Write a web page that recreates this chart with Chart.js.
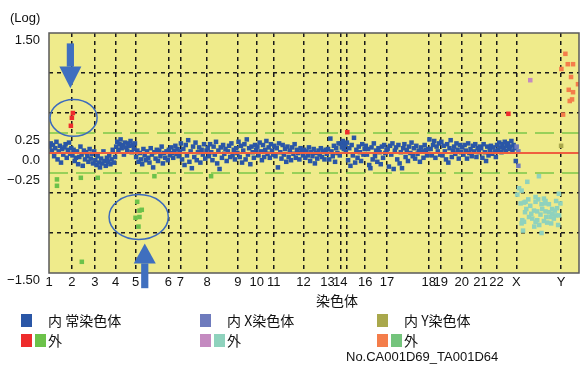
<!DOCTYPE html>
<html lang="ja">
<head>
<meta charset="utf-8">
<script src="https://cdn.jsdelivr.net/npm/chart.js@4.4.0/dist/chart.umd.min.js"></script>
<style>
  body { margin: 0; background: #fff; }
  #wrap { position: relative; width: 583px; height: 365px; font-family: "Liberation Sans", "Noto Sans CJK JP", sans-serif; color: #111; }
  #chart { position: absolute; left: 0; top: 0; }
  .t { position: absolute; white-space: nowrap; line-height: 1; }
  .jp { font-family: "Noto Sans CJK JP", sans-serif; font-size: 14px; }
  .sw { position: absolute; width: 11px; height: 13px; }
</style>
</head>
<body>
<div id="wrap">
  <canvas id="chart" width="583" height="365"></canvas>
  <div class="t" style="left:10px;top:11px;font-size:13px">(Log)</div>
  <div class="t jp" style="left:316px;top:293px">染色体</div>
  <div class="t" style="left:346px;top:350px;font-size:13px">No.CA001D69_TA001D64</div>
</div>
<script>
// chromosome axis (probe index)
const chrNames = ['1','2','3','4','5','6','7','8','9','10','11','12','13','14','','16','17','18','19','20','21','22','X','Y'];
const chrStart = [0,23,46,67,87,120,132,159,190,209,226,256,280,293,299,318,340,382,394,415,434,450,470,515];
const axisEnd = 533;

const yTickValues = [-1.5, -1, -0.5, -0.25, 0, 0.25, 0.5, 1, 1.5];
const yLabelValues = [1.5, 0.25, 0, -0.25, -1.5];
const yLabels = ['1.50', '0.25', '0.0', '\u22120.25', '\u22121.50'];

// log ratio per autosome, in probe order (inside threshold)
const autosomeLogRatio = [
  [0.08, 0.12, 0.03, 0.10, -0.04, 0.06, 0.14, -0.08, 0.02, 0.09, -0.12, 0.05, -0.02, 0.07, 0.11, -0.06, 0.04, 0.13, -0.01, 0.06],
  [-0.03, 0.04, -0.10, -0.06, 0.02, -0.14, -0.05, 0.08, -0.02, -0.16, 0.03, -0.08, 0.01, -0.04, -0.11, 0.05, -0.07, -0.01, -0.13, 0.02],
  [-0.09, -0.15, -0.04, -0.12, -0.18, -0.07, -0.13, 0.02, -0.10, -0.16, -0.06, -0.11, -0.03, -0.14, -0.08, 0.04, -0.12, -0.05],
  [0.08, 0.14, 0.04, 0.11, 0.17, 0.06, 0.10, -0.02, 0.13, 0.07, 0.03, 0.12, 0.09, 0.15, 0.01, 0.10, 0.05, 0.12],
  [-0.05, 0.03, -0.11, 0.00, -0.08, -0.14, 0.05, -0.03, -0.09, 0.02, -0.06, -0.12, 0.06, -0.02, -0.18, 0.01, -0.07, 0.04, -0.10, 0.03, -0.04, 0.08, -0.13, 0.00, -0.06, 0.02, -0.09],
  [0.04, -0.03, 0.07, 0.00, -0.06, 0.03, 0.09, -0.01, 0.05, -0.04, 0.02],
  [0.12, -0.08, 0.05, -0.15, 0.10, -0.03, 0.16, -0.11, 0.02, -0.19, 0.08, -0.05, 0.13, -0.09, 0.01, 0.07, -0.12, 0.04, -0.02, 0.11, -0.07, 0.03],
  [0.06, -0.04, 0.11, 0.01, -0.09, 0.08, -0.02, 0.14, -0.13, 0.03, -0.20, 0.07, -0.06, 0.10, -0.01, 0.05, -0.10, 0.02, 0.09, -0.05, 0.12, -0.03, 0.04, -0.08, 0.06, 0.00],
  [0.14, -0.05, 0.09, -0.12, 0.03, 0.11, -0.08, 0.17, -0.02, 0.06, -0.14, 0.08, 0.01, -0.06, 0.10, 0.04],
  [0.08, -0.03, 0.13, 0.02, -0.09, 0.10, -0.05, 0.04, 0.15, -0.01, 0.07, -0.06, 0.11, 0.03, -0.02],
  [0.09, -0.04, 0.06, -0.18, 0.12, 0.01, -0.07, 0.10, -0.02, 0.05, -0.11, 0.08, -0.05, 0.03, -0.09, 0.07, -0.01, 0.11, -0.06, 0.04, 0.00, -0.08, 0.06, 0.02, -0.03],
  [0.04, -0.06, 0.02, -0.03, 0.07, -0.10, 0.01, -0.04, 0.05, -0.13, 0.00, -0.07, 0.03, -0.02, 0.06, -0.05, 0.02, -0.08, 0.04, -0.01],
  [0.05, -0.08, 0.18, 0.02, -0.04, 0.09, -0.11, 0.06, 0.00, 0.12, -0.03],
  [0.12, 0.07, 0.15, 0.05, 0.10, 0.02],
  [0.13, -0.09, 0.06, -0.16, 0.10, -0.03, 0.19, -0.12, 0.04, -0.06, 0.08, 0.01, -0.10, 0.11, -0.02, 0.05],
  [0.09, -0.02, 0.05, -0.15, -0.19, 0.07, -0.08, 0.12, -0.04, 0.03, -0.11, 0.06, 0.01, -0.14, 0.08, -0.06, 0.10, 0.00, 0.04],
  [0.05, -0.17, 0.09, -0.02, 0.12, -0.20, 0.03, 0.07, -0.08, 0.10, -0.13, 0.01, -0.19, 0.06, 0.11, -0.05, 0.04, -0.10, 0.08, 0.00, 0.13, -0.04, 0.06, -0.07, 0.09, -0.01, 0.03, -0.11, 0.07, 0.02, -0.06, 0.10, 0.04, -0.03, 0.05],
  [0.17, 0.05, -0.03, 0.10, 0.15, -0.06, 0.08, 0.02, 0.12, -0.02],
  [0.14, -0.03, 0.09, 0.02, -0.08, 0.11, -0.12, 0.06, 0.16, -0.05, 0.03, 0.08, -0.01, 0.12, 0.04, -0.07, 0.10, 0.01],
  [0.07, -0.02, 0.10, 0.03, -0.07, 0.12, 0.00, 0.05, -0.04, 0.09, 0.02, 0.11, -0.05, 0.06, 0.01, 0.08],
  [0.06, -0.06, 0.11, 0.01, -0.10, 0.08, -0.03, 0.04, 0.09, -0.01, 0.07, 0.02, -0.05],
  [0.10, 0.04, 0.13, 0.07, 0.01, 0.11, 0.06, 0.14, 0.03, 0.09, 0.12, 0.05, 0.08, 0.15, 0.02, 0.10, 0.06, -0.10]
];

// [probe index, log ratio]
const outerAutoGain = [[24, 0.50], [23, 0.44], [22, 0.34], [300, 0.26], [462, 0.49]];
const outerAutoLoss = [[8, -0.33], [8, -0.41], [32, -0.31], [49, -0.31], [106, -0.29], [163, -0.29],
  [88.7, -0.61], [91, -0.72], [93.3, -0.71], [91, -0.80], [87, -0.81], [90, -0.92], [33, -1.36]];
const innerX = [[470.3, 0.08], [472, 0.02], [472, -0.16]];
const outerXGain = [[484, 0.91]];
const outerXLoss = [[492.7, -0.29], [481, -0.36], [472.7, -0.44], [475.3, -0.47], [482, -0.58], [479.3, -0.61],
  [477.7, -0.62], [474.3, -0.63], [489.3, -0.55], [492, -0.58], [489.3, -0.61], [497.7, -0.57], [499.3, -0.60],
  [498.7, -0.63], [512.7, -0.51], [514.3, -0.63], [495.3, -0.64], [502.7, -0.64], [506, -0.70], [508.7, -0.72],
  [511, -0.69], [487.7, -0.72], [491, -0.73], [478.7, -0.74], [499.3, -0.73], [506, -0.76], [509.3, -0.78],
  [504.3, -0.80], [507.7, -0.82], [482.7, -0.80], [486, -0.82], [476, -0.84], [477.7, -0.86], [475.3, -0.88],
  [491, -0.84], [489.3, -0.86], [497.7, -0.85], [501, -0.87], [512, -0.90], [494.3, -0.77], [476.7, -0.97],
  [495.3, -1.00], [484, -0.66], [496, -0.70], [503, -0.74], [485, -0.76], [500, -0.80], [510, -0.60],
  [480, -0.70], [493, -0.90], [505, -0.88], [513, -0.78], [471, -0.52], [488, -0.92]];
const innerY = [[515, 0.09]];
const outerYGain = [[519.3, 1.24], [521.7, 1.11], [527, 1.11], [515.3, 1.05], [525, 0.95], [532, 0.86],
  [522.7, 0.79], [527, 0.76], [526, 0.67], [523.7, 0.65], [517, 0.48]];
const threshold = 0.25;

// legend
const legendGroups = ['常染色体', 'X染色体', 'Y染色体'];
const innerColors = ['#2a56a6', '#6e7bbd', '#a9a84c'];
const outerGainColors = ['#ee2c2c', '#c48ac0', '#f47d4a'];
const outerLossColors = ['#6cc24a', '#8fd2bd', '#74c47c'];

// annotation marks (data coords)
const arrows = [{ x: 21.5, tail: 1.37, base: 1.08, tip: 0.81 }, { x: 96.3, tail: -1.69, base: -1.38, tip: -1.13 }];
const circles = [{ x: 24.7, y: 0.44, rx: 23.7, ry: 0.23 }, { x: 90.2, y: -0.80, rx: 29.8, ry: 0.28 }];

const innerAuto = [];
autosomeLogRatio.forEach((vals, c) => {
  const s = chrStart[c], len = chrStart[c + 1] - s;
  vals.forEach((v, i) => innerAuto.push({ x: s + (i + 0.5) * len / vals.length, y: v }));
});
const pts = arr => arr.map(p => ({ x: p[0], y: p[1] }));

function dots(data, color) {
  return { type: 'scatter', data: data, pointStyle: 'rect', pointRadius: 3.2, pointBackgroundColor: color, pointBorderWidth: 0 };
}
function hline(y, color, width, dash) {
  return { type: 'line', data: [{ x: 0, y: y }, { x: axisEnd, y: y }], borderColor: color, borderWidth: width,
    borderDash: dash, pointRadius: 0, fill: false };
}

const bgPlugin = {
  id: 'frame',
  beforeDraw(chart) {
    const a = chart.chartArea, ctx = chart.ctx;
    ctx.save();
    ctx.fillStyle = '#efeb8b';
    ctx.fillRect(a.left, a.top, a.right - a.left, a.bottom - a.top);
    ctx.restore();
  },
  afterDraw(chart) {
    const a = chart.chartArea, ctx = chart.ctx;
    const xs = chart.scales.x, ys = chart.scales.y;
    ctx.save();
    ctx.strokeStyle = '#5a5a5a';
    ctx.lineWidth = 1.5;
    ctx.strokeRect(a.left, a.top, a.right - a.left, a.bottom - a.top);

    ctx.strokeStyle = '#3d6bbd';
    ctx.lineWidth = 1.5;
    circles.forEach(c => {
      const cx = xs.getPixelForValue(c.x), cy = ys.getPixelForValue(c.y);
      const rx = xs.getPixelForValue(c.x + c.rx) - cx, ry = cy - ys.getPixelForValue(c.y + c.ry);
      ctx.beginPath();
      ctx.ellipse(cx, cy, rx, ry, 0, 0, Math.PI * 2);
      ctx.stroke();
    });

    ctx.fillStyle = '#3f6fbf';
    arrows.forEach(ar => {
      const x = xs.getPixelForValue(ar.x);
      const t = ys.getPixelForValue(ar.tail), b = ys.getPixelForValue(ar.base), p = ys.getPixelForValue(ar.tip);
      ctx.fillRect(x - 3.6, Math.min(t, b), 7.2, Math.abs(b - t));
      ctx.beginPath();
      ctx.moveTo(x - 11, b);
      ctx.lineTo(x + 11, b);
      ctx.lineTo(x, p);
      ctx.closePath();
      ctx.fill();
    });
    ctx.restore();
  }
};

new Chart(document.getElementById('chart'), {
  type: 'scatter',
  data: {
    datasets: [
      dots(pts(outerAutoGain), outerGainColors[0]),
      dots(pts(outerAutoLoss), outerLossColors[0]),
      dots(pts(outerXGain), outerGainColors[1]),
      dots(pts(outerXLoss), outerLossColors[1]),
      dots(pts(outerYGain), outerGainColors[2]),
      dots(pts(innerY), innerColors[2]),
      hline(0, '#ef5f3f', 2, []),
      dots(pts(innerX), innerColors[1]),
      dots(innerAuto, innerColors[0]),
      hline(threshold, '#7cc84a', 1.5, [19, 8]),
      hline(-threshold, '#7cc84a', 1.5, [19, 8])
    ]
  },
  options: {
    responsive: false,
    animation: false,
    layout: { padding: { top: 33, right: 1, left: 0, bottom: 0 } },
    plugins: { legend: { display: false }, tooltip: { enabled: false } },
    scales: {
      x: {
        type: 'linear', min: 0, max: axisEnd,
        afterBuildTicks: s => { s.ticks = chrStart.map(v => ({ value: v })); },
        afterFit: s => { s.height = 92; },
        ticks: {
          autoSkip: false, maxRotation: 0, minRotation: 0, padding: 2, color: '#111',
          font: { family: 'Liberation Sans', size: 13 },
          callback: (v, i) => chrNames[i]
        },
        grid: { drawTicks: false, lineWidth: 1.5, color: ctx => ctx.tick && ctx.tick.value === 0 ? 'rgba(0,0,0,0)' : '#1a1a1a' },
        border: { display: false, dash: [4, 4] }
      },
      y: {
        min: -1.5, max: 1.5,
        afterBuildTicks: s => { s.ticks = yTickValues.map(v => ({ value: v })); },
        afterFit: s => { s.width = 49; },
        ticks: {
          padding: 9, labelOffset: 7, color: '#111',
          font: { family: 'Liberation Sans', size: 13 },
          callback: v => { const i = yLabelValues.indexOf(v); return i < 0 ? '' : yLabels[i]; }
        },
        grid: {
          drawTicks: false, lineWidth: 1.5,
          color: ctx => (ctx.tick && [0.5, 1, -0.5, -1].includes(ctx.tick.value)) ? '#1a1a1a' : 'rgba(0,0,0,0)'
        },
        border: { display: false, dash: [4, 4] }
      }
    }
  },
  plugins: [bgPlugin]
});

// html legend
const wrap = document.getElementById('wrap');
const colX = [21, 200, 377];
function box(x, y, color) {
  const d = document.createElement('div');
  d.className = 'sw';
  d.style.left = x + 'px'; d.style.top = y + 'px'; d.style.background = color;
  wrap.appendChild(d);
}
function label(x, y, text) {
  const d = document.createElement('div');
  d.className = 't jp';
  d.style.left = x + 'px'; d.style.top = y + 'px';
  d.textContent = text;
  wrap.appendChild(d);
}
legendGroups.forEach((g, i) => {
  const x = colX[i];
  box(x, 314, innerColors[i]);
  label(x + 27, 313, '内 ' + g);
  box(x, 334, outerGainColors[i]);
  box(x + 14, 334, outerLossColors[i]);
  label(x + 27, 333, '外');
});
</script>
</body>
</html>
